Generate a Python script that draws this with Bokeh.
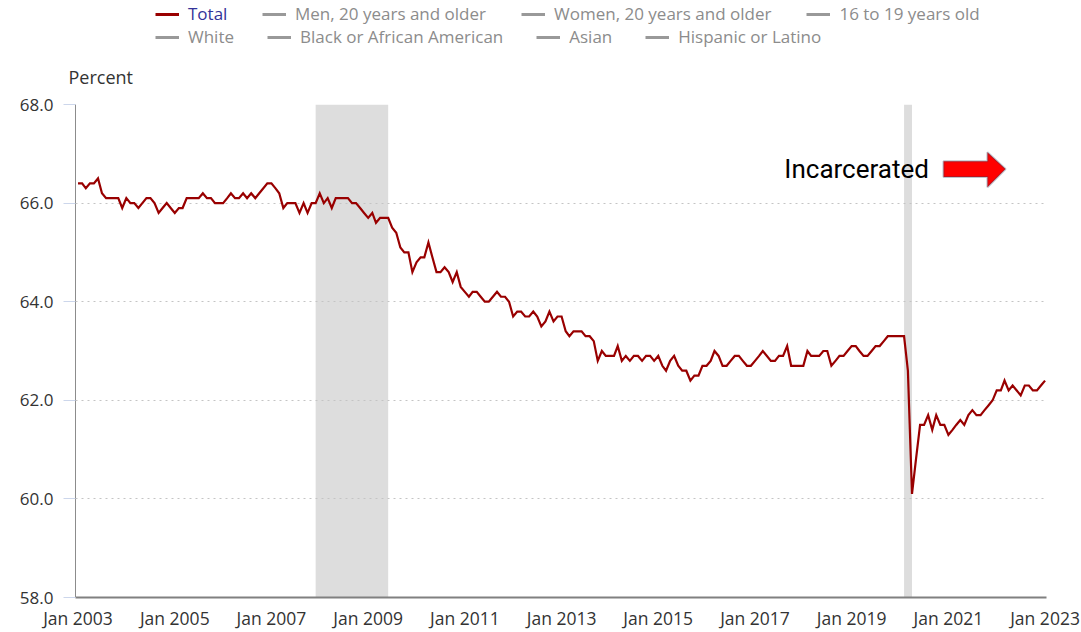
import pandas as pd
from bokeh.plotting import figure
from bokeh.layouts import column
from bokeh.models import (Range1d, FixedTicker, DatetimeTickFormatter, PrintfTickFormatter,
                          Legend, LegendItem, Label, PolyAnnotation)
from bokeh.embed import file_html
from bokeh.resources import INLINE

# ---------------- data (labor force participation rate, %, monthly) ----------------
series_start = "2003-01-01"
rate_2003 = [66.4, 66.4, 66.3, 66.4, 66.4, 66.5, 66.2, 66.1, 66.1, 66.1, 66.1, 65.9]
rate_2004 = [66.1, 66.0, 66.0, 65.9, 66.0, 66.1, 66.1, 66.0, 65.8, 65.9, 66.0, 65.9]
rate_2005 = [65.8, 65.9, 65.9, 66.1, 66.1, 66.1, 66.1, 66.2, 66.1, 66.1, 66.0, 66.0]
rate_2006 = [66.0, 66.1, 66.2, 66.1, 66.1, 66.2, 66.1, 66.2, 66.1, 66.2, 66.3, 66.4]
rate_2007 = [66.4, 66.3, 66.2, 65.9, 66.0, 66.0, 66.0, 65.8, 66.0, 65.8, 66.0, 66.0]
rate_2008 = [66.2, 66.0, 66.1, 65.9, 66.1, 66.1, 66.1, 66.1, 66.0, 66.0, 65.9, 65.8]
rate_2009 = [65.7, 65.8, 65.6, 65.7, 65.7, 65.7, 65.5, 65.4, 65.1, 65.0, 65.0, 64.6]
rate_2010 = [64.8, 64.9, 64.9, 65.2, 64.9, 64.6, 64.6, 64.7, 64.6, 64.4, 64.6, 64.3]
rate_2011 = [64.2, 64.1, 64.2, 64.2, 64.1, 64.0, 64.0, 64.1, 64.2, 64.1, 64.1, 64.0]
rate_2012 = [63.7, 63.8, 63.8, 63.7, 63.7, 63.8, 63.7, 63.5, 63.6, 63.8, 63.6, 63.7]
rate_2013 = [63.7, 63.4, 63.3, 63.4, 63.4, 63.4, 63.3, 63.3, 63.2, 62.8, 63.0, 62.9]
rate_2014 = [62.9, 62.9, 63.1, 62.8, 62.9, 62.8, 62.9, 62.9, 62.8, 62.9, 62.9, 62.8]
rate_2015 = [62.9, 62.7, 62.6, 62.8, 62.9, 62.7, 62.6, 62.6, 62.4, 62.5, 62.5, 62.7]
rate_2016 = [62.7, 62.8, 63.0, 62.9, 62.7, 62.7, 62.8, 62.9, 62.9, 62.8, 62.7, 62.7]
rate_2017 = [62.8, 62.9, 63.0, 62.9, 62.8, 62.8, 62.9, 62.9, 63.1, 62.7, 62.7, 62.7]
rate_2018 = [62.7, 63.0, 62.9, 62.9, 62.9, 63.0, 63.0, 62.7, 62.8, 62.9, 62.9, 63.0]
rate_2019 = [63.1, 63.1, 63.0, 62.9, 62.9, 63.0, 63.1, 63.1, 63.2, 63.3, 63.3, 63.3]
rate_2020 = [63.3, 63.3, 62.6, 60.1, 60.8, 61.5, 61.5, 61.7, 61.4, 61.7, 61.5, 61.5]
rate_2021 = [61.3, 61.4, 61.5, 61.6, 61.5, 61.7, 61.8, 61.7, 61.7, 61.8, 61.9, 62.0]
rate_2022 = [62.2, 62.2, 62.4, 62.2, 62.3, 62.2, 62.1, 62.3, 62.3, 62.2, 62.2, 62.3]
rate_2023 = [62.4]

legend_labels = ["Total", "Men, 20 years and older", "Women, 20 years and older",
                 "16 to 19 years old", "White", "Black or African American", "Asian",
                 "Hispanic or Latino"]

recession_start = ["2007-12-01", "2020-02-01"]
recession_end = ["2009-06-01", "2020-04-01"]

y_ticks = [58.0, 60.0, 62.0, 64.0, 66.0, 68.0]
x_tick_years = [2003, 2005, 2007, 2009, 2011, 2013, 2015, 2017, 2019, 2021, 2023]

annotation_text = "Incarcerated"

# ---------------- build ----------------
values = (rate_2003 + rate_2004 + rate_2005 + rate_2006 + rate_2007 + rate_2008 + rate_2009 +
          rate_2010 + rate_2011 + rate_2012 + rate_2013 + rate_2014 + rate_2015 + rate_2016 +
          rate_2017 + rate_2018 + rate_2019 + rate_2020 + rate_2021 + rate_2022 + rate_2023)
dates = pd.date_range(series_start, periods=len(values), freq="MS")

def ms(ts):
    return pd.Timestamp(ts).value / 1e6

def month_ms(idx):
    return ms(pd.Timestamp(series_start) + pd.Timedelta(days=30.4375 * idx))

FONT = "Open Sans"
W = 1080
LEG_H = 50
MAIN_H = 582

# ---------------- legend strip (frame aligned with the chart frame: x 75..1046) ----------------
pl = figure(width=W, height=LEG_H, x_axis_type=None, y_axis_type=None,
            output_backend="svg", toolbar_location=None,
            x_range=Range1d(0, 1), y_range=Range1d(0, 1),
            min_border_left=75, min_border_right=W - 1046,
            min_border_top=0, min_border_bottom=0)
pl.outline_line_color = None
pl.title = None
leg_colors = ["#990000"] + ["#999999"] * (len(legend_labels) - 1)
leg_renderers = [pl.line(x=[0.0], y=[float("nan")], line_color=c, line_width=3)
                 for c in leg_colors]

def style_legend(lg, color, spacing):
    lg.orientation = "horizontal"
    lg.border_line_color = None
    lg.background_fill_alpha = 0
    lg.padding = 0
    lg.margin = 0
    lg.spacing = spacing
    lg.glyph_width = 24
    lg.glyph_height = 20
    lg.label_height = 20
    lg.label_standoff = 9
    lg.label_text_font = FONT
    lg.label_text_font_size = "17px"
    lg.label_text_color = color
    lg.label_text_baseline = "middle"

leg_total = Legend(items=[LegendItem(label=legend_labels[0], renderers=[leg_renderers[0]])],
                   location=(80, 25))
style_legend(leg_total, "#333399", 35)
leg_row1 = Legend(items=[LegendItem(label=l, renderers=[r]) for l, r in
                         zip(legend_labels[1:4], leg_renderers[1:4])],
                  location=(187, 25))
style_legend(leg_row1, "#8c8c8c", 35)
leg_row2 = Legend(items=[LegendItem(label=l, renderers=[r]) for l, r in
                         zip(legend_labels[4:], leg_renderers[4:])],
                  location=(80, 2))
style_legend(leg_row2, "#8c8c8c", 33)
for lg in (leg_total, leg_row1, leg_row2):
    pl.add_layout(lg, "center")

# ---------------- main chart ----------------
p = figure(width=W, height=MAIN_H, x_axis_type="datetime",
           output_backend="svg", toolbar_location=None,
           x_range=Range1d(ms("2002-12-13"), ms("2023-01-12")),
           y_range=Range1d(58, 68),
           min_border_left=75, min_border_right=W - 1046,
           min_border_top=103 - LEG_H, min_border_bottom=MAIN_H - (103 - LEG_H) - 495)
p.outline_line_color = None
p.background_fill_color = "white"
p.border_fill_color = "white"

p.title.text = "Percent"
p.title.align = "left"
p.title.vertical_align = "top"
p.title.offset = -7
p.title.text_font = FONT
p.title.text_font_size = "18px"
p.title.text_font_style = "normal"
p.title.text_color = "#333333"
p.title.standoff = 28

# recession bands
p.quad(left=pd.to_datetime(recession_start), right=pd.to_datetime(recession_end),
       bottom=58, top=68, fill_color="#dddddd", line_color=None, level="image")

# grid
p.xgrid.grid_line_color = None
p.ygrid.grid_line_color = "#c4c4c4"
p.ygrid.grid_line_dash = "2 4"
p.ygrid.grid_line_width = 1
p.ygrid.ticker = FixedTicker(ticks=y_ticks)

# axes
p.yaxis.ticker = FixedTicker(ticks=y_ticks)
p.yaxis.formatter = PrintfTickFormatter(format="%.1f")
p.yaxis.axis_line_color = "#8c8c8c"
p.yaxis.major_tick_line_color = "#ccd6eb"
p.yaxis.major_tick_out = 12
p.yaxis.major_tick_in = 0
p.yaxis.minor_tick_line_color = None
p.yaxis.major_label_standoff = 10
p.yaxis.major_label_text_font = FONT
p.yaxis.major_label_text_font_size = "17px"
p.yaxis.major_label_text_color = "#333333"

p.xaxis.ticker = FixedTicker(ticks=[ms(f"{y}-01-01") for y in x_tick_years])
fmt = "%b %Y"
p.xaxis.formatter = DatetimeTickFormatter(years=fmt, months=fmt, days=fmt, hours=fmt,
                                          hourmin=fmt, minutes=fmt, minsec=fmt,
                                          seconds=fmt, milliseconds=fmt, microseconds=fmt)
p.xaxis.axis_line_color = "#808080"
p.xaxis.axis_line_width = 2
p.xaxis.major_tick_line_color = None
p.xaxis.minor_tick_line_color = None
p.xaxis.major_tick_out = 0
p.xaxis.major_tick_in = 0
p.xaxis.major_label_standoff = 8
p.xaxis.major_label_text_font = FONT
p.xaxis.major_label_text_font_size = "17.5px"
p.xaxis.major_label_text_color = "#333333"

# series
p.line(dates, values, line_color="#990000", line_width=2.2, line_join="miter")

# annotation text and arrow
p.add_layout(Label(x=month_ms(175.3), y=66.69, text=annotation_text, text_font="Roboto",
                   text_font_size="26px", text_color="black", text_baseline="alphabetic"))
ax0, ax1, ax2 = month_ms(214.8), month_ms(225.7), month_ms(230.2)
p.add_layout(PolyAnnotation(xs=[ax0, ax1, ax1, ax2, ax1, ax1, ax0],
                            ys=[66.85, 66.85, 67.03, 66.69, 66.32, 66.53, 66.53],
                            fill_color="#ff0000", fill_alpha=1,
                            line_color="#1f3f5f", line_width=2))

layout = column(pl, p, spacing=0)
open("out.html", "w").write(file_html(layout, INLINE))
